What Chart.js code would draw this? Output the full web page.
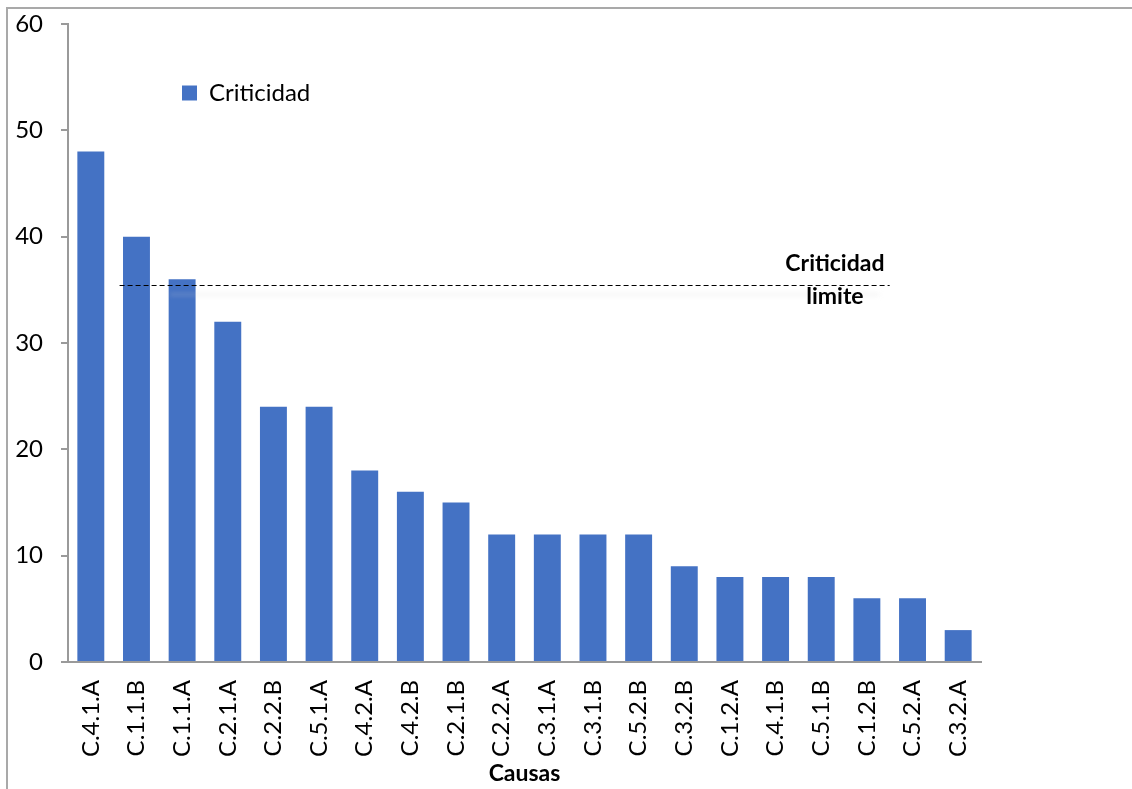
<!DOCTYPE html>
<html>
<head>
<meta charset="utf-8">
<script src="https://cdn.jsdelivr.net/npm/chart.js@4/dist/chart.umd.min.js"></script>
<style>
  html, body { margin: 0; padding: 0; background: #fff; }
  #wrap { position: relative; width: 1132px; height: 789px; overflow: hidden; }
  #frame { position: absolute; left: 6px; top: 7px; right: -10px; bottom: -10px;
           border-left: 2px solid #a9a9a9; border-top: 2px solid #a9a9a9; }
  canvas { position: absolute; left: 0; top: 0; }
</style>
</head>
<body>
<div id="wrap">
  <div id="frame"></div>
  <canvas id="chart" width="1132" height="789"></canvas>
</div>
<script>
// Causes ordered by criticality
const categories = ['C.4.1.A','C.1.1.B','C.1.1.A','C.2.1.A','C.2.2.B','C.5.1.A','C.4.2.A','C.4.2.B','C.2.1.B','C.2.2.A',
                    'C.3.1.A','C.3.1.B','C.5.2.B','C.3.2.B','C.1.2.A','C.4.1.B','C.5.1.B','C.1.2.B','C.5.2.A','C.3.2.A'];
const criticidad = [48, 40, 36, 32, 24, 24, 18, 16, 15, 12, 12, 12, 12, 9, 8, 8, 8, 6, 6, 3];
const yTicks = [0, 10, 20, 30, 40, 50, 60];

// Threshold line ("Criticidad limite") and the category span it covers
const limiteValue = 35.5;
const limiteFrom = 0.63;
const limiteTo = 17.5;
const limiteLabel = ['Criticidad', 'limite'];
const limiteLabelAt = 16.3;

const FONT = 'Lato, "Open Sans", sans-serif';
const AXIS_GREY = '#9a9a9a';

const limitePlugin = {
  id: 'limite',
  afterDatasetsDraw(chart) {
    const { ctx } = chart;
    const x = chart.scales.x, y = chart.scales.y;
    const py = Math.round(y.getPixelForValue(limiteValue)) + 0.5;
    const x0 = x.getPixelForValue(limiteFrom), x1 = x.getPixelForValue(limiteTo);
    ctx.save();
    // faint shade under the line
    ctx.strokeStyle = 'rgba(210,210,210,0.18)';
    ctx.lineWidth = 4;
    ctx.filter = 'blur(2px)';
    ctx.beginPath(); ctx.moveTo(x0 + 50, py + 9); ctx.lineTo(x1 - 10, py + 9); ctx.stroke();
    ctx.filter = 'none';
    ctx.strokeStyle = '#000';
    ctx.lineWidth = 1;
    ctx.setLineDash([5, 3]);
    ctx.beginPath(); ctx.moveTo(x0, py); ctx.lineTo(x1, py); ctx.stroke();
    ctx.setLineDash([]);
    ctx.fillStyle = '#000';
    ctx.font = 'bold 23px ' + FONT;
    ctx.textAlign = 'center';
    ctx.textBaseline = 'middle';
    const lx = x.getPixelForValue(limiteLabelAt);
    ctx.fillText(limiteLabel[0], lx, py - 22);
    ctx.fillText(limiteLabel[1], lx, py + 11);
    ctx.restore();
  }
};

// Place the legend inside the plot, near the upper left
const legendPlacer = {
  id: 'legendPlacer',
  afterLayout(chart) {
    const lg = chart.legend;
    const dx = 182 - lg.left, dy = 81 - lg.top;
    lg.left += dx; lg.right += dx; lg.top += dy; lg.bottom += dy;
  }
};

new Chart(document.getElementById('chart'), {
  type: 'bar',
  data: {
    labels: categories,
    datasets: [{
      label: 'Criticidad',
      data: criticidad,
      backgroundColor: '#4472C4',
      borderWidth: 0,
      barPercentage: 0.59,
      categoryPercentage: 1.0
    }]
  },
  options: {
    responsive: false,
    animation: false,
    devicePixelRatio: 1,
    layout: { padding: { left: 8, right: 151, top: 24, bottom: 0 } },
    plugins: {
      legend: {
        position: 'chartArea',
        align: 'start',
        labels: {
          boxWidth: 15, boxHeight: 15, padding: 0,
          color: '#000',
          font: { family: FONT, size: 24 }
        }
      },
      tooltip: { enabled: false }
    },
    scales: {
      x: {
        offset: true,
        grid: { display: false, drawTicks: false },
        border: { color: AXIS_GREY, width: 2 },
        ticks: {
          color: '#000', minRotation: 90, maxRotation: 90, autoSkip: false, padding: 18,
          font: { family: FONT, size: 24 }
        },
        title: {
          display: true, text: 'Causas', color: '#000',
          font: { family: FONT, size: 23, weight: 'bold' },
          padding: { top: 0, bottom: 2 }
        },
        afterFit(scale) { scale.height = 127; scale.paddingLeft = 0; scale.paddingRight = 0; }
      },
      y: {
        min: 0, max: 60,
        afterBuildTicks(scale) { scale.ticks = yTicks.map(v => ({ value: v })); },
        grid: { drawOnChartArea: false, drawTicks: true, tickLength: 7, color: AXIS_GREY, lineWidth: 2 },
        border: { color: AXIS_GREY, width: 2 },
        ticks: {
          color: '#000', padding: 18,
          font: { family: FONT, size: 24 }
        },
        afterFit(scale) { scale.width = 60; scale.paddingTop = 0; scale.paddingBottom = 0; }
      }
    }
  },
  plugins: [limitePlugin, legendPlacer]
});
</script>
</body>
</html>
